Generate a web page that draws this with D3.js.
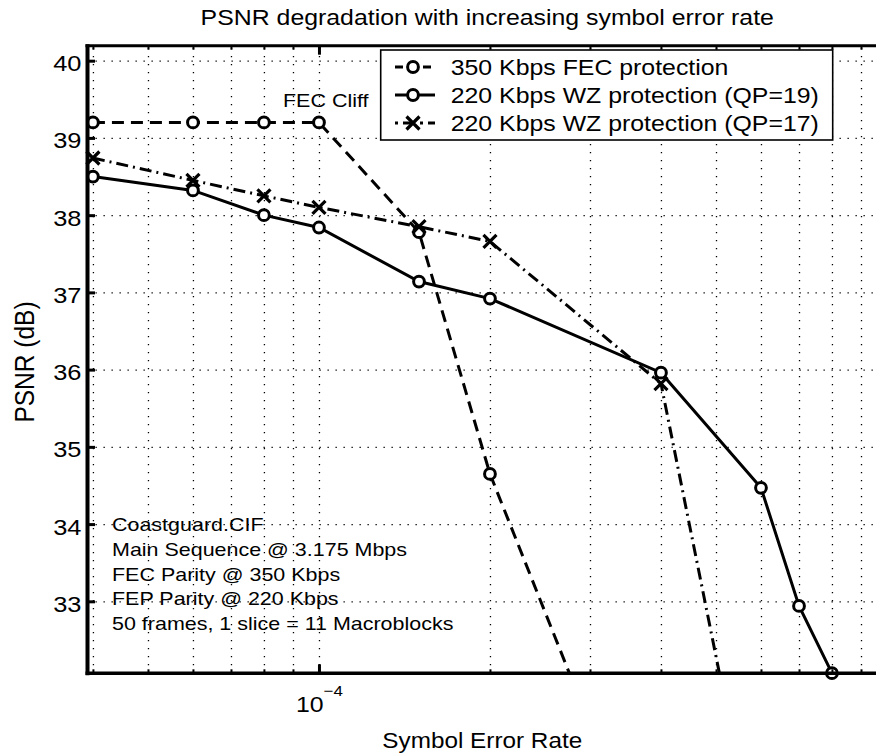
<!DOCTYPE html>
<html><head><meta charset="utf-8">
<script src="https://cdn.jsdelivr.net/npm/d3@7"></script>
<style>
html,body{margin:0;padding:0;background:#fff;}
svg{display:block;font-family:"Liberation Sans",Arial,Helvetica,sans-serif;}
</style></head><body>
<svg id="chart" width="876" height="755"></svg>
<script>
// ---------------- data ----------------
const fecX  = [4e-5, 6e-5, 8e-5, 1e-4, 1.5e-4, 2e-4, 3e-4];
const fecY  = [39.2, 39.2, 39.2, 39.2, 37.78, 34.65, 31.4];
const wz19X = [4e-5, 6e-5, 8e-5, 1e-4, 1.5e-4, 2e-4, 4e-4, 6e-4, 7e-4, 8e-4];
const wz19Y = [38.5, 38.32, 38.0, 37.84, 37.14, 36.92, 35.96, 34.47, 32.94, 32.07];
const wz17X = [4e-5, 6e-5, 8e-5, 1e-4, 1.5e-4, 2e-4, 4e-4, 6e-4];
const wz17Y = [38.74, 38.45, 38.25, 38.1, 37.85, 37.66, 35.82, 29.4];
const seriesNames = ["350 Kbps FEC protection", "220 Kbps WZ protection (QP=19)", "220 Kbps WZ protection (QP=17)"];
const yTicks = [33, 34, 35, 36, 37, 38, 39, 40];
const xMinorTicks = [4e-5, 5e-5, 6e-5, 7e-5, 8e-5, 9e-5, 2e-4, 3e-4, 4e-4, 5e-4, 6e-4, 7e-4, 8e-4, 9e-4];
const xMajorTicks = [1e-4];
const xMajorLabels = [["10", "\u22124"]];
const titleText = "PSNR degradation with increasing symbol error rate";
const xLabelText = "Symbol Error Rate";
const yLabelText = "PSNR (dB)";
const cliffLabel = "FEC Cliff";
const infoLines = ["Coastguard.CIF", "Main Sequence @ 3.175 Mbps", "FEC Parity @ 350 Kbps", "FEP Parity @ 220 Kbps", "50 frames, 1 slice = 11 Macroblocks"];

// ---------------- layout ----------------
const SX = 1.13;               // horizontal text stretch of the reference
const L = 87.5, R = 887, T = 45.7, B = 673.3;
const svg = d3.select("#chart");
const x = d3.scaleLog().domain([3.913e-5, 1e-3]).range([L, R]);
const y = d3.scaleLinear().domain([32.068, 40.194]).range([B, T]);

const series = [
  {name: seriesNames[0], xs: fecX,  ys: fecY,  dash: "12,7",     marker: "circle"},
  {name: seriesNames[1], xs: wz19X, ys: wz19Y, dash: null,       marker: "circle"},
  {name: seriesNames[2], xs: wz17X, ys: wz17Y, dash: "12,5,2,5", marker: "x"}
];

svg.append("defs").append("clipPath").attr("id", "plotclip")
  .append("rect").attr("x", L).attr("y", T).attr("width", R - L).attr("height", B - T);

// ---------------- grid ----------------
const gGridY = svg.append("g").attr("transform", `translate(${L},0)`)
  .call(d3.axisLeft(y).tickValues(yTicks).tickSize(-(R - L)).tickFormat(""));
gGridY.select(".domain").remove();
gGridY.selectAll("line").attr("stroke", "#000").attr("stroke-width", 1.2).attr("stroke-dasharray", "1.3,6.7");

const gGridX = svg.append("g").attr("transform", `translate(0,${B})`)
  .call(d3.axisBottom(x).tickValues(xMinorTicks.concat(xMajorTicks)).tickSize(-(B - T)).tickFormat(""));
gGridX.select(".domain").remove();
gGridX.selectAll("line").attr("stroke", "#000").attr("stroke-width", 1.3).attr("stroke-dasharray", "1.4,6.6");

// ---------------- texts inside plot ----------------
svg.append("text").text(cliffLabel)
  .attr("font-size", 19).attr("fill", "#000")
  .attr("transform", `translate(283,107.3) scale(${SX},1)`);

svg.append("g").selectAll("text").data(infoLines).join("text")
  .text(d => d).attr("font-size", 19).attr("fill", "#000")
  .attr("transform", (d, i) => `translate(112,${530.7 + i * 24.9}) scale(${SX},1)`);

// ---------------- series ----------------
const line = d3.line().x(d => x(d[0])).y(d => y(d[1]));
const gData = svg.append("g");
function drawMarker(g, type, cx, cy) {
  if (type === "circle") {
    g.append("circle").attr("cx", cx).attr("cy", cy).attr("r", 5.4)
      .attr("fill", "#fff").attr("stroke", "#000").attr("stroke-width", 3);
  } else {
    const s = 6.5;
    g.append("path").attr("d", `M${cx - s},${cy - s}L${cx + s},${cy + s}M${cx - s},${cy + s}L${cx + s},${cy - s}`)
      .attr("stroke", "#000").attr("stroke-width", 3.2).attr("fill", "none");
  }
}
series.forEach(s => {
  const pts = s.xs.map((v, i) => [v, s.ys[i]]);
  gData.append("path").datum(pts).attr("d", line)
    .attr("clip-path", "url(#plotclip)")
    .attr("fill", "none").attr("stroke", "#000").attr("stroke-width", 3)
    .attr("stroke-dasharray", s.dash);
});
series.forEach(s => {
  const g = gData.append("g");
  s.xs.forEach((v, i) => {
    const yy = s.ys[i];
    if (yy >= y.domain()[0] - 0.01 && yy <= y.domain()[1]) drawMarker(g, s.marker, x(v), y(yy));
  });
});

// ---------------- ticks ----------------
const gYT = svg.append("g").attr("transform", `translate(${L},0)`)
  .call(d3.axisLeft(y).tickValues(yTicks).tickSizeInner(-7.5).tickSizeOuter(0).tickFormat(d3.format("d")));
gYT.select(".domain").remove();
gYT.selectAll("line").attr("stroke", "#000").attr("stroke-width", 3);
gYT.selectAll("text").attr("x", null).attr("dy", null).attr("y", null)
  .attr("font-size", 22.5).attr("fill", "#000").attr("text-anchor", "end")
  .attr("font-family", "Liberation Sans, Arial, sans-serif")
  .attr("transform", `translate(-6,10) scale(${SX},1)`);

function xTicks(axisGen, yPos, minorLen, majorLen) {
  const gm = svg.append("g").attr("transform", `translate(0,${yPos})`)
    .call(axisGen(x).tickValues(xMinorTicks).tickSize(minorLen).tickFormat(""));
  gm.select(".domain").remove();
  gm.selectAll("line").attr("stroke", "#000").attr("stroke-width", 2);
  const gM = svg.append("g").attr("transform", `translate(0,${yPos})`)
    .call(axisGen(x).tickValues(xMajorTicks).tickSize(majorLen).tickFormat(""));
  gM.select(".domain").remove();
  gM.selectAll("line").attr("stroke", "#000").attr("stroke-width", 3);
  return gM;
}
const gXB = xTicks(d3.axisBottom, B, -4, -9);
xTicks(d3.axisTop, T, -4, -9);
gXB.selectAll(".tick").each(function(d, i) {
  const t = d3.select(this).select("text").text(null)
    .attr("y", null).attr("dy", null)
    .attr("font-size", 22).attr("fill", "#000").attr("text-anchor", "middle")
    .attr("font-family", "Liberation Sans, Arial, sans-serif")
    .attr("transform", `translate(0,${711.7 - B}) scale(${SX},1)`);
  const lab = xMajorLabels[i];
  t.append("tspan").text(lab[0]);
  t.append("tspan").text(lab[1]).attr("font-size", 15).attr("dy", -16);
});

// ---------------- frame ----------------
const frame = svg.append("g").attr("stroke", "#000").attr("fill", "none");
frame.append("line").attr("x1", L).attr("x2", L).attr("y1", T - 1.5).attr("y2", B + 2).attr("stroke-width", 4);
frame.append("line").attr("x1", L - 2).attr("x2", R).attr("y1", B).attr("y2", B).attr("stroke-width", 3.6);
frame.append("line").attr("x1", L - 2).attr("x2", R).attr("y1", T).attr("y2", T).attr("stroke-width", 3);
frame.append("line").attr("x1", R).attr("x2", R).attr("y1", T).attr("y2", B).attr("stroke-width", 3);

// ---------------- legend ----------------
const lg = svg.append("g");
lg.append("rect").attr("x", 380.7).attr("y", 50).attr("width", 452).attr("height", 90)
  .attr("fill", "#fff").attr("stroke", "#000").attr("stroke-width", 1.6);
series.forEach((s, i) => {
  const cy = 67 + i * 28;
  lg.append("line").attr("x1", 395).attr("x2", 435).attr("y1", cy).attr("y2", cy)
    .attr("stroke", "#000").attr("stroke-width", 3).attr("stroke-dasharray", s.dash ? (i === 0 ? "8,6" : "3,5,12,5") : null);
  drawMarker(lg, s.marker, 413, cy);
  lg.append("text").text(s.name).attr("font-size", 22).attr("fill", "#000")
    .attr("transform", `translate(450.7,${cy + 8.3}) scale(${SX},1)`);
});

// ---------------- titles ----------------
svg.append("text").text(titleText).attr("font-size", 22).attr("fill", "#000")
  .attr("text-anchor", "middle").attr("transform", `translate(${(L + R) / 2},25) scale(${SX},1)`);
svg.append("text").text(xLabelText).attr("font-size", 21.5).attr("fill", "#000")
  .attr("text-anchor", "middle").attr("transform", `translate(${(L + R) / 2 - 5},748) scale(${SX},1)`);
svg.append("text").text(yLabelText).attr("font-size", 24.5).attr("fill", "#000")
  .attr("text-anchor", "middle").attr("transform", `translate(33.5,362) scale(${SX},1) rotate(-90)`);
</script>
</body></html>
